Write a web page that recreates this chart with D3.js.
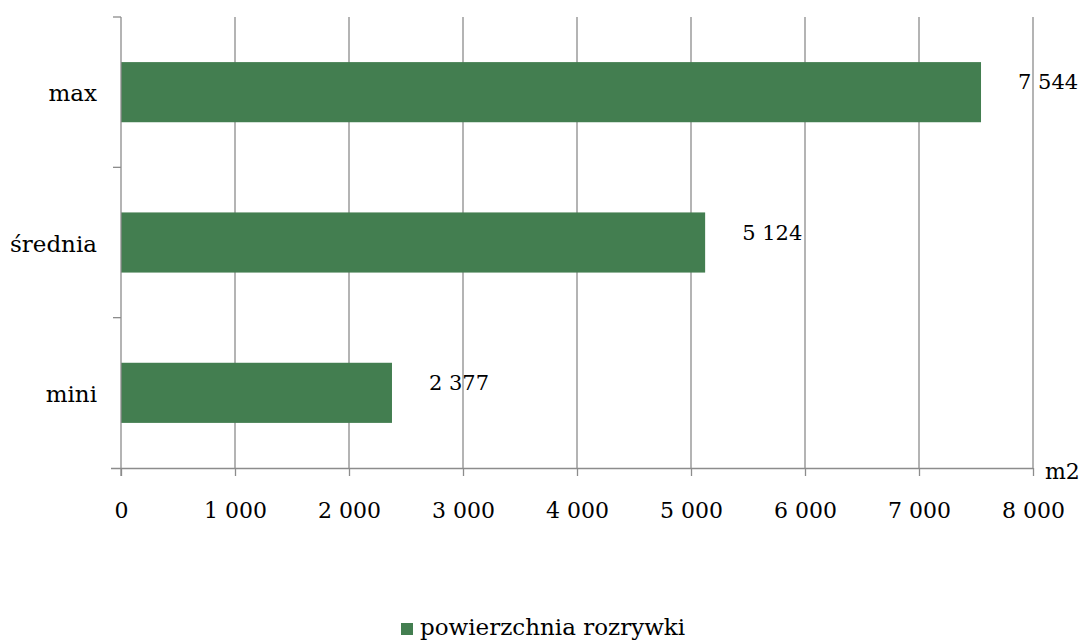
<!DOCTYPE html>
<html>
<head>
<meta charset="utf-8">
<script src="https://cdn.jsdelivr.net/npm/d3@7"></script>
<style>
  html, body { margin: 0; padding: 0; background: #fff; }
  svg { display: block; }
  text { font-family: "DejaVu Serif", Georgia, serif; fill: #000; }
</style>
</head>
<body>
<svg id="chart" width="1087" height="641"></svg>
<script>
// Surface figures (m2) per venue size
const categories = ["max", "średnia", "mini"];
const values = [7544, 5124, 2377];
const valueLabels = ["7 544", "5 124", "2 377"];
const xTicks = [0, 1000, 2000, 3000, 4000, 5000, 6000, 7000, 8000];
const xTickLabels = ["0", "1 000", "2 000", "3 000", "4 000", "5 000", "6 000", "7 000", "8 000"];
const seriesName = "powierzchnia rozrywki";
const unitLabel = "m2";

(function draw() {
  const barColor = "#437e50";
  const gridColor = "#8c8c8c";
  const font = "DejaVu Serif, Georgia, serif";

  const svg = d3.select("#chart");
  const plotLeft = 121, plotRight = 1033, plotTop = 17, plotBottom = 468;

  const x = d3.scaleLinear().domain([0, 8000]).range([plotLeft, plotRight]);
  const y = d3.scaleBand().domain(categories).range([plotTop, plotBottom]).padding(0);
  const barH = y.bandwidth() * 0.4;

  // vertical gridlines
  svg.append("g")
    .selectAll("line")
    .data(xTicks.slice(1))
    .join("line")
    .attr("x1", d => x(d)).attr("x2", d => x(d))
    .attr("y1", plotTop).attr("y2", plotBottom)
    .attr("stroke", gridColor).attr("stroke-width", 1.3);

  // bars
  svg.append("g")
    .selectAll("rect")
    .data(categories)
    .join("rect")
    .attr("x", x(0))
    .attr("y", d => y(d) + (y.bandwidth() - barH) / 2)
    .attr("width", (d, i) => x(values[i]) - x(0))
    .attr("height", barH)
    .attr("fill", barColor);

  // x axis
  const xAxis = d3.axisBottom(x)
    .tickValues(xTicks)
    .tickFormat((d, i) => xTickLabels[i])
    .tickSize(8)
    .tickSizeOuter(0)
    .tickPadding(26);
  const gx = svg.append("g").attr("transform", `translate(0,${plotBottom})`).call(xAxis);
  gx.attr("font-family", font).attr("font-size", 22);
  gx.select(".domain").attr("stroke", gridColor).attr("stroke-width", 1.3)
    .attr("d", `M${plotLeft - 10},0.5H${plotRight}`);
  gx.selectAll(".tick line").attr("stroke", gridColor).attr("stroke-width", 1.3);
  gx.selectAll(".tick text").attr("fill", "#000");

  // y axis with ticks on the band boundaries
  const gy = svg.append("g");
  gy.append("line")
    .attr("x1", plotLeft).attr("x2", plotLeft)
    .attr("y1", plotTop).attr("y2", plotBottom + 8)
    .attr("stroke", gridColor).attr("stroke-width", 1.3);
  gy.selectAll("line.tk")
    .data(categories.map(c => y(c)))
    .join("line")
    .attr("class", "tk")
    .attr("x1", plotLeft - 8).attr("x2", plotLeft)
    .attr("y1", d => d).attr("y2", d => d)
    .attr("stroke", gridColor).attr("stroke-width", 1.3);
  gy.selectAll("text")
    .data(categories)
    .join("text")
    .attr("x", plotLeft - 24)
    .attr("y", d => y(d) + y.bandwidth() / 2 + 9)
    .attr("text-anchor", "end")
    .attr("font-size", 23)
    .text(d => d);

  // value labels
  svg.append("g")
    .selectAll("text")
    .data(categories)
    .join("text")
    .attr("x", (d, i) => x(values[i]) + 37)
    .attr("y", d => y(d) + y.bandwidth() / 2 - 3)
    .attr("font-size", 21)
    .text((d, i) => valueLabels[i]);

  // unit label
  svg.append("text")
    .attr("x", plotRight + 12).attr("y", plotBottom + 11)
    .attr("font-size", 22)
    .text(unitLabel);

  // legend
  const lg = svg.append("g").attr("transform", "translate(401,623)");
  lg.append("rect").attr("width", 12).attr("height", 12).attr("fill", barColor);
  lg.append("text")
    .attr("x", 19).attr("y", 12)
    .attr("font-size", 23)
    .text(seriesName);
})();
</script>
</body>
</html>
